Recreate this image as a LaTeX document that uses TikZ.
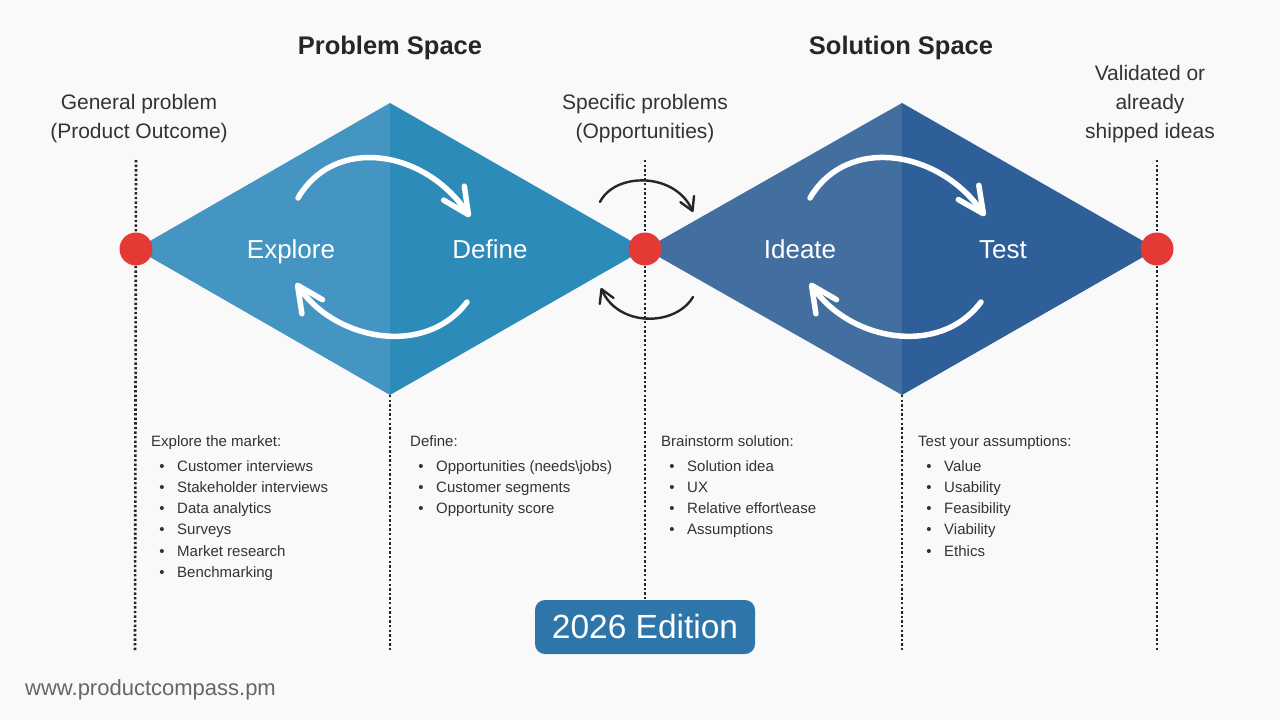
\documentclass[tikz,border=0pt]{standalone}
\usepackage{fontspec}
\setmainfont{Liberation Sans}
\usetikzlibrary{arrows.meta}
\definecolor{bg}{HTML}{F9F9F9}
\definecolor{txt}{HTML}{333333}
\definecolor{pA}{HTML}{4495C2}
\definecolor{pB}{HTML}{2D8BBA}
\definecolor{sA}{HTML}{426FA0}
\definecolor{sB}{HTML}{2E5F99}
\definecolor{dotred}{HTML}{E53935}
\definecolor{badge}{HTML}{2E75AA}
\definecolor{urlgray}{HTML}{666666}
\tikzset{
  vdots/.style={draw=black!85, line width=2.6pt, dash pattern=on 2.4pt off 2.2pt},
  reddot/.style={circle, fill=dotred, minimum size=33pt, inner sep=0pt},
  title/.style={font=\fontsize{25.5}{30}\selectfont\bfseries, text=black!85, anchor=base},
  label/.style={font=\fontsize{21}{29}\selectfont, text=txt, align=center},
  phase/.style={font=\fontsize{26}{30}\selectfont, text=white, anchor=base},
  warrow/.style={draw=white, line width=5.5pt, line cap=round, -{Straight Barb[length=26pt,width=25pt,line cap=round,round]}},
  barrow/.style={draw=black!85, line width=2.4pt, line cap=round, -{Straight Barb[length=13pt,width=15pt,round]}},
  hdr/.style={font=\fontsize{15}{18}\selectfont, text=txt, anchor=base west, inner sep=0pt},
  itm/.style={font=\fontsize{15}{18}\selectfont, text=txt, anchor=base west, inner sep=0pt},
  bul/.style={font=\fontsize{15}{18}\selectfont, text=txt, anchor=base, inner sep=0pt},
}
\begin{document}
\begin{tikzpicture}[x=1pt,y=-1pt]
\useasboundingbox (0,0) rectangle (1280,720);
\fill[bg] (0,0) rectangle (1280,720);

% key points
\coordinate (L1) at (136,249);
\coordinate (T1) at (390,103);
\coordinate (B1) at (390,395);
\coordinate (M)  at (645,249);
\coordinate (T2) at (902,103);
\coordinate (B2) at (902,395);
\coordinate (R2) at (1157,249);

% dotted verticals
\coordinate (v1a) at (136,160); \coordinate (v1b) at (135,650);
\coordinate (v2b) at (390,650);
\coordinate (v3a) at (645,160); \coordinate (v3b) at (645,600);
\coordinate (v4b) at (902,650);
\coordinate (v5a) at (1157,160); \coordinate (v5b) at (1157,650);
\draw[vdots] (v1a) -- (v1b);
\draw[vdots] (B1) -- (v2b);
\draw[vdots] (v3a) -- (v3b);
\draw[vdots] (B2) -- (v4b);
\draw[vdots] (v5a) -- (v5b);

% diamonds
\fill[pA] (L1) -- (T1) -- (B1) -- cycle;
\fill[pB] (T1) -- (M) -- (B1) -- cycle;
\fill[sA] (M) -- (T2) -- (B2) -- cycle;
\fill[sB] (T2) -- (R2) -- (B2) -- cycle;

% red dots
\node[reddot] (d1) at (L1) {};
\node[reddot] (d2) at (M) {};
\node[reddot] (d3) at (R2) {};

% titles
\node[title] (ps) at (390,54) {Problem Space};
\node[title] (ss) at (901,54) {Solution Space};

% labels
\node[label] (gp) at (139,119) {General problem\\(Product Outcome)};
\node[label] (sp) at (645,119) {Specific problems\\(Opportunities)};
\node[label] (vi) at (1150,104) {Validated or\\already\\shipped ideas};

% phases
\node[phase] (ex) at (291,258) {Explore};
\node[phase] (de) at (490,258) {Define};
\node[phase] (id) at (800,258) {Ideate};
\node[phase] (te) at (1003,258) {Test};

% white cycle arrows
\coordinate (a1s) at (298,198); \coordinate (a1e) at (470,217);
\coordinate (a2s) at (467,302); \coordinate (a2e) at (296,283);
\draw[warrow] (a1s) .. controls (335,135) and (425,150) .. (a1e);
\draw[warrow] (a2s) .. controls (425,358) and (335,340) .. (a2e);
\coordinate (a3s) at (810,198); \coordinate (a3e) at (985,216);
\coordinate (a4s) at (981,302); \coordinate (a4e) at (810,283);
\draw[warrow] (a3s) .. controls (847,135) and (939,150) .. (a3e);
\draw[warrow] (a4s) .. controls (939,358) and (849,340) .. (a4e);

% black arrows
\coordinate (b1s) at (600,202); \coordinate (b1e) at (693,212);
\coordinate (b2s) at (693,297); \coordinate (b2e) at (601,288);
\draw[barrow] (b1s) .. controls (615,172) and (675,172) .. (b1e);
\draw[barrow] (b2s) .. controls (675,327) and (618,327) .. (b2e);

% lists
\node[hdr] (h1) at (151,446) {Explore the market:};
\foreach \t [count=\i] in {Customer interviews,Stakeholder interviews,Data analytics,Surveys,Market research,Benchmarking}{
  \node[bul] (e\i b) at (162,{471+21.3*(\i-1)}) {•};
  \node[itm] (e\i) at (177,{471+21.3*(\i-1)}) {\t};
}
\node[hdr] (h2) at (410,446) {Define:};
\foreach \t [count=\i] in {Opportunities (needs\textbackslash jobs),Customer segments,Opportunity score}{
  \node[bul] (f\i b) at (421,{471+21.3*(\i-1)}) {•};
  \node[itm] (f\i) at (436,{471+21.3*(\i-1)}) {\t};
}
\node[hdr] (h3) at (661,446) {Brainstorm solution:};
\foreach \t [count=\i] in {Solution idea,UX,Relative effort\textbackslash ease,Assumptions}{
  \node[bul] (g\i b) at (672,{471+21.3*(\i-1)}) {•};
  \node[itm] (g\i) at (687,{471+21.3*(\i-1)}) {\t};
}
\node[hdr] (h4) at (918,446) {Test your assumptions:};
\foreach \t [count=\i] in {Value,Usability,Feasibility,Viability,Ethics}{
  \node[bul] (k\i b) at (929,{471+21.3*(\i-1)}) {•};
  \node[itm] (k\i) at (944,{471+21.3*(\i-1)}) {\t};
}

% badge
\node[fill=badge, rounded corners=10pt, minimum width=220pt, minimum height=54pt, text=white,
      font=\fontsize{33.5}{36}\selectfont, inner sep=0pt] (ed) at (645,627) {2026 Edition};

% url
\node[font=\fontsize{22}{26}\selectfont, text=urlgray, anchor=base west, inner sep=0pt] (url) at (25,695) {www.productcompass.pm};
\end{tikzpicture}
\end{document}
